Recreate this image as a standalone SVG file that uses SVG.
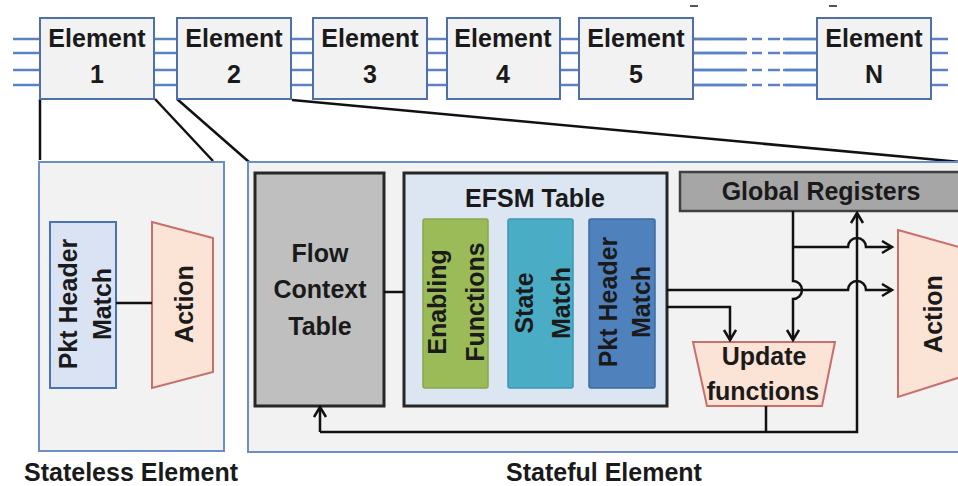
<svg xmlns="http://www.w3.org/2000/svg" width="958" height="486" viewBox="0 0 958 486">
<defs>
<marker id="arr" markerUnits="userSpaceOnUse" markerWidth="20" markerHeight="20" refX="11" refY="7" orient="auto">
<path d="M1,1 L11,7 L1,13" fill="none" stroke="#111" stroke-width="2.5"/>
</marker>
<style>
text{font-family:"Liberation Sans",Arial,sans-serif;font-weight:bold;font-size:25px;fill:#1a1a1a;text-anchor:middle}
.bus{stroke:#5b82c1;stroke-width:2.5;fill:none}
.el{fill:#f2f2f2;stroke:#4f6fa8;stroke-width:2}
.panel{fill:#f2f2f2;stroke:#6d8ec4;stroke-width:2}
.conn{stroke:#111;stroke-width:2.5;fill:none}
.dark{stroke:#262626;stroke-width:3}
.act{fill:#fbe3d5;stroke:#c66f6b;stroke-width:2}
</style>
</defs>
<rect width="958" height="486" fill="#ffffff"/>

<g id="bus">
<g class="bus">
<path d="M13,39H948M13,53H948M13,70H948M13,85H948"/>
</g>
<rect x="745" y="30" width="40" height="60" fill="#ffffff"/>
<g class="bus">
<path d="M692,39H747M752,39H762M768,39H780M783,39H817"/>
<path d="M692,53H747M752,53H762M768,53H780M783,53H817"/>
<path d="M692,70H747M752,70H762M768,70H780M783,70H817"/>
<path d="M692,85H747M752,85H762M768,85H780M783,85H817"/>
</g>
<path d="M690,6H698M829,6H837" stroke="#555" stroke-width="2"/>
</g>

<g id="zoom-lines" class="conn">
<path d="M40,99V160"/>
<path d="M155,99L213,161"/>
<path d="M177,99L249,162"/>
<path d="M292,100L960,162"/>
</g>

<g id="element1"><rect class="el" x="40" y="18" width="114" height="81"/><text x="97" y="47">Element</text><text x="97" y="83">1</text></g>
<g id="element2"><rect class="el" x="177" y="18" width="114" height="81"/><text x="234" y="47">Element</text><text x="234" y="83">2</text></g>
<g id="element3"><rect class="el" x="313" y="18" width="114" height="81"/><text x="370" y="47">Element</text><text x="370" y="83">3</text></g>
<g id="element4"><rect class="el" x="447" y="18" width="113" height="81"/><text x="503" y="47">Element</text><text x="503" y="83">4</text></g>
<g id="element5"><rect class="el" x="579" y="18" width="114" height="81"/><text x="636" y="47">Element</text><text x="636" y="83">5</text></g>
<g id="elementN"><rect class="el" x="817" y="18" width="114" height="81"/><text x="874" y="47">Element</text><text x="874" y="83">N</text></g>

<g id="stateless">
<rect class="panel" x="39" y="162" width="185" height="289"/>
<text x="131" y="481">Stateless Element</text>
</g>
<g id="stateless-match">
<rect x="50" y="222" width="66" height="166" fill="#dae3f3" stroke="#4a72b8" stroke-width="2"/>
<text transform="translate(77,304) rotate(-90)">Pkt Header</text>
<text transform="translate(111,304) rotate(-90)">Match</text>
</g>
<g id="stateless-action">
<polygon class="act" points="152,222 213,238 213,372 152,388"/>
<text transform="translate(193,304) rotate(-90)">Action</text>
</g>
<path class="conn" d="M116,303H152"/>

<g id="stateful">
<rect class="panel" x="248" y="162" width="730" height="290"/>
<text x="604" y="481">Stateful Element</text>
</g>

<g id="flow-context">
<rect class="dark" x="255" y="173" width="129" height="233" fill="#bfbfbf"/>
<text x="320" y="262">Flow</text>
<text x="320" y="298">Context</text>
<text x="320" y="335">Table</text>
</g>

<g id="efsm">
<rect class="dark" x="404" y="173" width="263" height="233" fill="#dce6f2"/>
<text x="535" y="207">EFSM Table</text>
</g>
<g id="enabling">
<rect x="423" y="219" width="65" height="169" rx="2" fill="#9bbb59" stroke="#86a84a" stroke-width="1.5"/>
<text transform="translate(446,302) rotate(-90)">Enabling</text>
<text transform="translate(484,302) rotate(-90)">Functions</text>
</g>
<g id="state-match">
<rect x="508" y="219" width="65" height="169" rx="2" fill="#4bacc6" stroke="#3d98b2" stroke-width="1.5"/>
<text transform="translate(533,303) rotate(-90)">State</text>
<text transform="translate(570,303) rotate(-90)">Match</text>
</g>
<g id="pkt-match">
<rect x="589" y="219" width="66" height="169" rx="2" fill="#4f81bd" stroke="#3c6aa2" stroke-width="1.5"/>
<text transform="translate(617,302) rotate(-90)">Pkt Header</text>
<text transform="translate(650,302) rotate(-90)">Match</text>
</g>

<g id="global-registers">
<rect x="680" y="172" width="290" height="39" fill="#a6a6a6" stroke="#404040" stroke-width="2.5"/>
<text x="821" y="200">Global Registers</text>
</g>

<g id="update">
<polygon class="act" points="693,342 835,342 822,406 707,406"/>
<text x="764" y="365">Update</text>
<text x="763" y="400">functions</text>
</g>

<g id="action">
<polygon class="act" points="898,230 970,250 970,374 898,397"/>
<text transform="translate(942,314) rotate(-90)">Action</text>
</g>

<g id="connectors" class="conn">
<path d="M384,292H404"/>
<path d="M667,290H848A9,9 0 0 1 866,290H892" marker-end="url(#arr)"/>
<path d="M667,307H730V340" marker-end="url(#arr)"/>
<path d="M793,211V281A9,9 0 0 1 793,299V340" marker-end="url(#arr)"/>
<path d="M793,247H848A9,9 0 0 1 866,247H892" marker-end="url(#arr)"/>
<path d="M766,406V432"/>
<path d="M320,432H857V213" marker-end="url(#arr)"/>
<path d="M320,432V407" marker-end="url(#arr)"/>
</g>
</svg>
